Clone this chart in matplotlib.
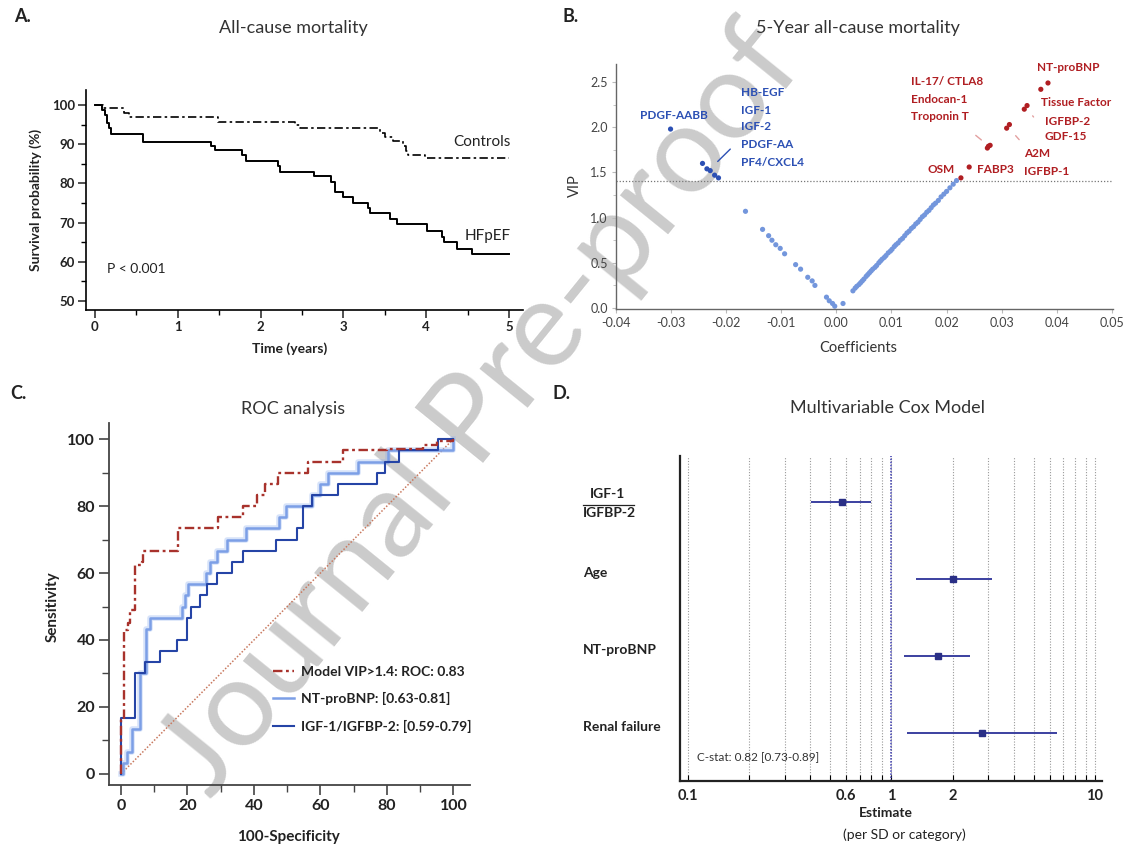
import numpy as np
import matplotlib
matplotlib.use('Agg')
import matplotlib.pyplot as plt
import matplotlib.transforms as mtransforms
from matplotlib.lines import Line2D
from matplotlib.ticker import MultipleLocator, FixedLocator

plt.rcParams['font.family'] = ['Lato', 'DejaVu Sans']

# A: Kaplan-Meier (time in years, survival %)
hf_t = [0, 0.08, 0.12, 0.146, 0.17, 0.19, 0.58, 1.40, 1.45, 1.78, 1.83, 2.21, 2.23, 2.64,
        2.85, 2.90, 2.99, 3.12, 3.30, 3.32, 3.56, 3.65, 4.01, 4.19, 4.21, 4.37, 4.55, 5.0]
hf_s = [100, 98.7, 97.3, 95.3, 94.0, 92.6, 90.6, 89.6, 88.5, 87.2, 85.8, 84.5, 83.0, 81.8,
        80.4, 77.7, 76.4, 75.1, 73.8, 72.4, 70.9, 69.6, 67.9, 66.4, 65.0, 63.2, 61.9, 61.9]
ct_t = [0, 0.10, 0.35, 0.41, 1.49, 2.42, 2.48, 3.44, 3.50, 3.60, 3.72, 3.76, 3.78, 3.99, 5.0]
ct_s = [100, 99.2, 97.9, 96.9, 95.7, 94.9, 94.0, 92.9, 91.9, 90.9, 89.5, 88.3, 87.3, 86.4, 86.4]

# B: VIP vs coefficients
other_coef = [-0.0165, -0.0134, -0.0123, -0.0117, -0.0110, -0.0102, -0.0094, -0.0074, -0.0065,
              -0.0052, -0.0044, -0.0039, -0.0018, -0.0013, -0.0007, -0.0003, 0.0012,
              0.0030, 0.0034, 0.0037, 0.0041, 0.0044, 0.0047, 0.0050, 0.0054, 0.0057, 0.0060,
              0.0063, 0.0066, 0.0070, 0.0073, 0.0077, 0.0080, 0.0083, 0.0087, 0.0090, 0.0094,
              0.0098, 0.0101, 0.0105, 0.0108, 0.0112, 0.0116, 0.0120, 0.0124, 0.0128, 0.0132,
              0.0136, 0.0140, 0.0144, 0.0148, 0.0152, 0.0156, 0.0160, 0.0164, 0.0168, 0.0172,
              0.0176, 0.0180, 0.0185, 0.0190, 0.0195, 0.0200, 0.0206, 0.0212, 0.0218]
other_vip = [1.07, 0.87, 0.80, 0.75, 0.70, 0.66, 0.60, 0.48, 0.43,
             0.34, 0.30, 0.25, 0.12, 0.08, 0.05, 0.02, 0.05,
             0.19, 0.22, 0.24, 0.26, 0.28, 0.30, 0.32, 0.35, 0.37, 0.39,
             0.41, 0.43, 0.45, 0.47, 0.50, 0.52, 0.54, 0.56, 0.58, 0.61,
             0.63, 0.65, 0.68, 0.70, 0.72, 0.75, 0.77, 0.80, 0.83, 0.85,
             0.88, 0.90, 0.93, 0.95, 0.98, 1.01, 1.03, 1.06, 1.08, 1.11,
             1.14, 1.16, 1.19, 1.23, 1.26, 1.29, 1.33, 1.37, 1.41]
neg_coef = [-0.0301, -0.0243, -0.0235, -0.0229, -0.0221, -0.0214]
neg_vip = [1.98, 1.60, 1.54, 1.52, 1.47, 1.44]
pos_coef = [0.0384, 0.0371, 0.0346, 0.0341, 0.0314, 0.0309, 0.0279, 0.0276, 0.0274, 0.0241, 0.0226]
pos_vip = [2.49, 2.42, 2.24, 2.20, 2.03, 1.99, 1.80, 1.79, 1.77, 1.56, 1.44]
vip_cut = 1.4

# C: ROC steps (100-specificity, sensitivity)
model_x = [0, 0, 1.0, 2.2, 2.7, 4.2, 4.3, 6.2, 6.7, 17.3, 29.3, 36.7, 41.0, 43.3, 47.3, 56.3,
           66.7, 80.0, 91.0, 95.0, 98.0, 100]
model_y = [0, 16.0, 43.0, 45.0, 49.0, 50.0, 62.5, 63.3, 66.7, 73.3, 76.7, 80.0, 83.3, 86.7, 90.0,
           93.3, 96.7, 97.0, 98.3, 99.3, 99.5, 100]
nt_x = [0, 0.6, 1.8, 3.3, 5.8, 7.6, 8.8, 18.3, 19.3, 20.3, 25.6, 26.8, 28.8, 31.8, 37.5, 47.5,
        49.5, 57.5, 60.0, 62.4, 71.4, 80.4, 100, 100]
nt_y = [0, 3.3, 6.7, 13.3, 30.0, 43.3, 46.7, 50.0, 53.3, 56.7, 60.0, 63.3, 66.7, 70.0, 73.3, 76.7,
        80.0, 83.3, 86.7, 90.0, 93.3, 96.7, 96.7, 100]
igf_x = [0, 0, 4.3, 7.3, 11.8, 16.8, 20.0, 21.0, 23.8, 25.8, 28.8, 33.3, 36.8, 46.7, 52.9, 54.7,
         57.4, 65.4, 76.9, 79.4, 83.5, 95.5, 100]
igf_y = [0, 16.7, 30.0, 33.3, 36.7, 40.0, 46.7, 50.0, 53.3, 56.7, 60.0, 63.3, 66.7, 70.0, 73.3,
         80.0, 83.3, 86.7, 90.0, 93.3, 96.7, 100, 100]
roc_labels = ['Model VIP>1.4: ROC: 0.83', 'NT-proBNP: [0.63-0.81]', 'IGF-1/IGFBP-2: [0.59-0.79]']

# D: multivariable Cox model
cox_names = ['IGF-1/IGFBP-2', 'Age', 'NT-proBNP', 'Renal failure']
cox_est = [0.574, 2.02, 1.69, 2.78]
cox_lo = [0.404, 1.33, 1.16, 1.20]
cox_hi = [0.80, 3.12, 2.45, 6.53]

W, H = 1133, 847
fig = plt.figure(figsize=(W / 100, H / 100), dpi=100)


def box(l, t, r, b):
    return [l / W, 1 - b / H, (r - l) / W, (b - t) / H]


def ftext(x, y, s, **kw):
    fig.text(x / W, 1 - y / H, s, **kw)


dark = '#222222'
fig.text(0.425, 0.515, 'Journal Pre-proof', rotation=51, fontsize=88, color='#cbcbcb',
         ha='center', va='center', zorder=-5)

# ---------- A ----------
ax = fig.add_axes(box(86, 90, 523, 310))
ax.patch.set_alpha(0)
ax.step(hf_t, hf_s, where='post', color='black', lw=1.4)
ax.step(ct_t, ct_s, where='post', color='black', lw=1.2, linestyle=(0, (5, 2, 1.5, 2)))
ax.set_xlim(-0.108, 5.17)
ax.set_ylim(47.7, 103.8)
for s in ['top', 'right']:
    ax.spines[s].set_visible(False)
for s in ['left', 'bottom']:
    ax.spines[s].set_linewidth(1.2)
ax.xaxis.set_major_locator(MultipleLocator(1))
ax.xaxis.set_minor_locator(MultipleLocator(0.5))
ax.yaxis.set_major_locator(MultipleLocator(10))
ax.yaxis.set_minor_locator(MultipleLocator(5))
ax.tick_params(which='major', length=6, width=1.1, labelsize=9.5, colors=dark, pad=2)
ax.tick_params(which='minor', length=3.5, width=1.0)
for lab in ax.get_xticklabels() + ax.get_yticklabels():
    lab.set_fontweight('bold')
ax.text(5.02, 90.6, 'Controls', ha='right', va='center', fontsize=11, color=dark)
ax.text(5.02, 66.6, 'HFpEF', ha='right', va='center', fontsize=11, color=dark)
ax.text(0.15, 58.2, 'P < 0.001', ha='left', va='center', fontsize=10, color=dark)
ftext(293, 28, 'All-cause mortality', ha='center', va='center', fontsize=13, color='#333333')
ftext(290, 349, 'Time (years)', ha='center', va='center', fontsize=10, fontweight='bold', color=dark)
ftext(36, 200, 'Survival probability (%)', ha='center', va='center', rotation=90,
      fontsize=10, fontweight='bold', color=dark)
ftext(14, 17, 'A.', ha='left', va='center', fontsize=13, fontweight='bold', color=dark)

# ---------- B ----------
light_b = '#7396dc'
blue_b = '#2c50b4'
red_b = '#b01e22'
ax = fig.add_axes(box(616, 64, 1113, 309))
ax.patch.set_alpha(0)
ax.axhline(vip_cut, color='#777777', ls=(0, (1, 1.5)), lw=0.9, zorder=1)
ax.scatter(other_coef, other_vip, s=14, color=light_b, edgecolors='none', zorder=2)
ax.scatter(neg_coef, neg_vip, s=14, color=blue_b, edgecolors='none', zorder=3)
ax.scatter(pos_coef, pos_vip, s=14, color=red_b, edgecolors='none', zorder=3)
ax.set_xlim(-0.04, 0.0502)
ax.set_ylim(-0.011, 2.70)
for s in ['top', 'right']:
    ax.spines[s].set_visible(False)
for s in ['left', 'bottom']:
    ax.spines[s].set_color('#666666')
    ax.spines[s].set_linewidth(1.0)
ax.set_xticks([-0.04, -0.03, -0.02, -0.01, 0.0, 0.01, 0.02, 0.03, 0.04, 0.05])
ax.set_xticklabels(['-0.04', '-0.03', '-0.02', '-0.01', '0.00', '0.01', '0.02', '0.03', '0.04', '0.05'])
ax.yaxis.set_major_locator(MultipleLocator(0.5))
ax.yaxis.set_minor_locator(MultipleLocator(0.25))
ax.yaxis.set_major_formatter(matplotlib.ticker.FormatStrFormatter('%.1f'))
ax.tick_params(which='major', length=3, width=0.8, color='#bbbbbb', labelsize=9, labelcolor='#444444', pad=3)
ax.tick_params(which='minor', length=2, width=0.6, color='#bbbbbb')
fs_lab = 8.5
ax.text(-0.0295, 2.13, 'PDGF-AABB', color=blue_b, ha='center', va='center', fontsize=fs_lab, fontweight='bold')
for name, yy in zip(['HB-EGF', 'IGF-1', 'IGF-2', 'PDGF-AA', 'PF4/CXCL4'], [2.38, 2.19, 2.01, 1.81, 1.61]):
    ax.text(-0.0173, yy, name, color=blue_b, ha='left', va='center', fontsize=fs_lab, fontweight='bold')
ax.annotate('', xy=(-0.0219, 1.60), xytext=(-0.0189, 1.78),
            arrowprops=dict(arrowstyle='-', color=blue_b, lw=1.0))
ax.text(0.0421, 2.66, 'NT-proBNP', color=red_b, ha='center', va='center', fontsize=fs_lab, fontweight='bold')
red_left = [('Tissue Factor', 0.0371, 2.27), ('IGFBP-2', 0.0378, 2.06), ('GDF-15', 0.0378, 1.90),
            ('A2M', 0.0341, 1.71), ('IGFBP-1', 0.0341, 1.51), ('IL-17/ CTLA8', 0.0135, 2.51),
            ('Endocan-1', 0.0135, 2.31), ('Troponin T', 0.0135, 2.12), ('FABP3', 0.0256, 1.53)]
for name, xx, yy in red_left:
    ax.text(xx, yy, name, color=red_b, ha='left', va='center', fontsize=fs_lab, fontweight='bold')
ax.text(0.0215, 1.53, 'OSM', color=red_b, ha='right', va='center', fontsize=fs_lab, fontweight='bold')
for (x0, y0), (x1, y1) in [((0.0249, 1.93), (0.0267, 1.84)), ((0.0322, 1.93), (0.0335, 1.84)),
                           ((0.0353, 2.15), (0.0361, 2.09))]:
    ax.annotate('', xy=(x1, y1), xytext=(x0, y0), arrowprops=dict(arrowstyle='-', color='#e3a0a0', lw=1.0))
ftext(858, 28, '5-Year all-cause mortality', ha='center', va='center', fontsize=13, color='#333333')
ftext(858, 348, 'Coefficients', ha='center', va='center', fontsize=10.5, color='#333333')
ftext(575, 186, 'VIP', ha='center', va='center', rotation=90, fontsize=10.5, color='#333333')
ftext(563, 17, 'B.', ha='left', va='center', fontsize=13, fontweight='bold', color=dark)

# ---------- C ----------
ax = fig.add_axes(box(109, 423, 470, 785))
ax.patch.set_alpha(0)
ax.plot([0, 100], [0, 100], color='#c8785e', ls=(0, (1, 1.2)), lw=1.1, zorder=1)
ax.step(nt_x, nt_y, where='post', color='#8fb0ee', lw=4, alpha=0.35, zorder=2)
ln_nt, = ax.step(nt_x, nt_y, where='post', color='#7c9fe6', lw=1.8, zorder=3, label=roc_labels[1])
ln_igf, = ax.step(igf_x, igf_y, where='post', color='#2544a6', lw=1.5, zorder=4, label=roc_labels[2])
ln_m, = ax.step(model_x, model_y, where='post', color='#a8322c', lw=1.7,
                ls=(0, (4, 1.5, 1.2, 1.5)), zorder=5, label=roc_labels[0])
ax.set_xlim(-3.6, 105)
ax.set_ylim(-3.3, 104.8)
for s in ['top', 'right']:
    ax.spines[s].set_visible(False)
for s in ['left', 'bottom']:
    ax.spines[s].set_color('#444444')
    ax.spines[s].set_linewidth(1.3)
ax.xaxis.set_major_locator(MultipleLocator(20))
ax.xaxis.set_minor_locator(MultipleLocator(10))
ax.yaxis.set_major_locator(MultipleLocator(20))
ax.yaxis.set_minor_locator(MultipleLocator(10))
ax.tick_params(which='major', length=7, width=1.2, color='#444444', labelsize=11.5, labelcolor=dark, pad=3)
ax.tick_params(which='minor', length=5, width=1.0, color='#444444')
for lab in ax.get_xticklabels() + ax.get_yticklabels():
    lab.set_fontweight('bold')
leg = ax.legend(handles=[ln_m, ln_nt, ln_igf], loc='upper left', bbox_to_anchor=(0.44, 0.345),
                frameon=False, fontsize=10, handlelength=1.5, handletextpad=0.5, labelspacing=1.05,
                borderaxespad=0)
for t in leg.get_texts():
    t.set_fontweight('bold')
    t.set_color(dark)
ftext(293, 409, 'ROC analysis', ha='center', va='center', fontsize=13, color='#333333')
ftext(288, 837, '100-Specificity', ha='center', va='center', fontsize=11, fontweight='bold', color=dark)
ftext(53, 607, 'Sensitivity', ha='center', va='center', rotation=90, fontsize=11, fontweight='bold', color=dark)
ftext(10, 393, 'C.', ha='left', va='center', fontsize=13, fontweight='bold', color=dark)

# ---------- D ----------
navy = '#2a2f86'
ax = fig.add_axes(box(680, 456, 1102, 781))
ax.patch.set_alpha(0)
rows = np.arange(len(cox_names), 0, -1)
est = np.array(cox_est)
ax.set_xscale('log')
grid_ticks = [0.1, 0.2, 0.3, 0.4, 0.5, 0.6, 0.7, 0.8, 0.9, 1, 2, 3, 4, 5, 6, 7, 8, 9, 10]
shown = {0.1: '0.1', 0.6: '0.6', 1: '1', 2: '2', 10: '10'}
ax.xaxis.set_major_locator(FixedLocator(grid_ticks))
ax.xaxis.set_minor_locator(FixedLocator([]))
ax.set_xticklabels([shown.get(v, '') for v in grid_ticks])
ax.grid(axis='x', color='#999999', ls=(0, (1, 1.5)), lw=0.8)
ax.axvline(1, color='#3a3ab0', ls=(0, (1, 1)), lw=1.1, zorder=2)
ax.errorbar(est, rows, xerr=[est - np.array(cox_lo), np.array(cox_hi) - est], fmt='s', color=navy,
            ecolor='#3b40a0', elinewidth=1.4, ms=5, capsize=0, zorder=3)
ax.set_xlim(0.0918, 10.84)
ax.set_ylim(0.377, 4.6)
ax.set_yticks([])
for s in ['top', 'right']:
    ax.spines[s].set_visible(False)
for s in ['left', 'bottom']:
    ax.spines[s].set_linewidth(1.6)
    ax.spines[s].set_color('#222222')
ax.tick_params(axis='x', direction='in', length=4, width=0.8, labelsize=10.5, labelcolor=dark, pad=6)
for lab in ax.get_xticklabels():
    lab.set_fontweight('bold')
tr = mtransforms.blended_transform_factory(ax.transAxes, ax.transData)
ax.text(-0.171, rows[0] + 0.10, 'IGF-1', transform=tr, ha='center', va='center', fontsize=10,
        fontweight='bold', color=dark)
ax.text(-0.23, rows[0] - 0.14, 'IGFBP-2', transform=tr, ha='left', va='center', fontsize=10,
        fontweight='bold', color=dark)
ax.add_line(Line2D([-0.23, -0.109], [rows[0] - 0.04, rows[0] - 0.04], transform=tr, color=dark,
                   lw=0.9, clip_on=False))
for name, r in zip(cox_names[1:], rows[1:]):
    ax.text(-0.23, r + 0.08, name, transform=tr, ha='left', va='center', fontsize=10,
            fontweight='bold', color=dark)
ax.text(0.111, 0.68, 'C-stat: 0.82 [0.73-0.89]', ha='left', va='center', fontsize=8.5, color='#333333')
ftext(888, 408, 'Multivariable Cox Model', ha='center', va='center', fontsize=13, color='#333333')
ftext(886, 813, 'Estimate', ha='center', va='center', fontsize=10, fontweight='bold', color=dark)
ftext(904, 835, '(per SD or category)', ha='center', va='center', fontsize=10, color=dark)
ftext(553, 393, 'D.', ha='left', va='center', fontsize=13, fontweight='bold', color=dark)

fig.savefig('out.png', dpi=100)
